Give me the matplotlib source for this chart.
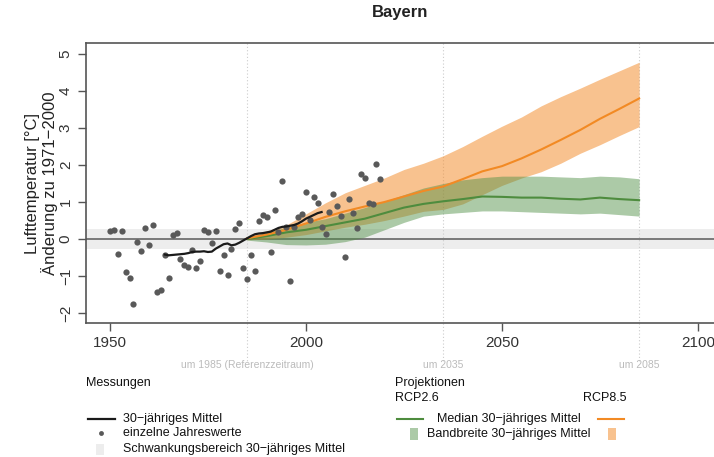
import numpy as np
import matplotlib
matplotlib.use('Agg')
from matplotlib import pyplot as plt
from matplotlib.lines import Line2D
from matplotlib.patches import Rectangle
import matplotlib.transforms as mtransforms

plt.rcParams['font.family'] = ['Liberation Sans', 'DejaVu Sans']

# measured annual values (deviation to 1971-2000)
years = np.arange(1950, 2020)
annual = [0.22, 0.25, -0.41, 0.22, -0.90, -1.04, -1.76, -0.07, -0.31, 0.30,
          -0.16, 0.39, -1.42, -1.38, -0.43, -1.04, 0.11, 0.17, -0.53, -0.69,
          -0.76, -0.30, -0.79, -0.59, 0.24, 0.20, -0.12, 0.22, -0.87, -0.43,
          -0.97, -0.28, 0.27, 0.43, -0.78, -1.08, -0.43, -0.86, 0.50, 0.64,
          0.60, -0.34, 0.78, 0.19, 1.57, 0.32, -1.13, 0.32, 0.60, 0.69,
          1.28, 0.51, 1.14, 0.98, 0.32, 0.14, 0.73, 1.22, 0.89, 0.62,
          -0.49, 1.09, 0.71, 0.30, 1.77, 1.66, 0.98, 0.95, 2.04, 1.62]

# 30-year running mean of the measurements
mean_years = np.arange(1964, 2005)
mean30 = [-0.42, -0.44, -0.43, -0.42, -0.41, -0.40, -0.38, -0.35, -0.34, -0.34,
          -0.33, -0.35, -0.34, -0.26, -0.20, -0.14, -0.12, -0.17, -0.15, -0.10,
          -0.04, 0.02, 0.08, 0.13, 0.15, 0.16, 0.18, 0.20, 0.25, 0.30,
          0.33, 0.34, 0.36, 0.38, 0.42, 0.48, 0.55, 0.60, 0.65, 0.70, 0.73]

# projections
proj_years = np.arange(1985, 2086, 5)
rcp85_med = [0.02, 0.12, 0.25, 0.42, 0.60, 0.75, 0.88, 1.00, 1.15, 1.30, 1.42,
             1.62, 1.83, 1.97, 2.18, 2.42, 2.68, 2.95, 3.25, 3.52, 3.80]
rcp85_hi = [0.05, 0.22, 0.38, 0.68, 0.98, 1.25, 1.45, 1.65, 1.88, 2.05, 2.25,
            2.50, 2.78, 3.05, 3.30, 3.60, 3.85, 4.08, 4.32, 4.55, 4.78]
rcp85_lo = [-0.02, 0.00, 0.05, 0.12, 0.22, 0.32, 0.40, 0.50, 0.62, 0.75, 0.80,
            0.95, 1.20, 1.45, 1.65, 1.82, 2.05, 2.32, 2.55, 2.80, 3.04]
rcp26_med = [0.00, 0.08, 0.18, 0.25, 0.35, 0.45, 0.55, 0.70, 0.85, 0.95, 1.02,
             1.08, 1.15, 1.14, 1.12, 1.12, 1.09, 1.07, 1.12, 1.08, 1.05]
rcp26_hi = [0.03, 0.18, 0.32, 0.45, 0.55, 0.70, 0.85, 1.02, 1.20, 1.38, 1.50,
            1.60, 1.66, 1.70, 1.70, 1.70, 1.68, 1.66, 1.70, 1.68, 1.63]
rcp26_lo = [-0.03, -0.08, -0.15, -0.16, -0.14, -0.07, 0.05, 0.25, 0.45, 0.62, 0.68,
            0.72, 0.76, 0.76, 0.74, 0.72, 0.70, 0.68, 0.70, 0.66, 0.62]

ref_lines = [1985, 2035, 2085]
ref_labels = ['um 1985 (Referenzzeitraum)', 'um 2035', 'um 2085']
band = 0.28

W, H = 714, 457
fig = plt.figure(figsize=(W / 100, H / 100), dpi=100)
ax = fig.add_axes([86 / W, 1 - 323 / H, (W - 86) / W, 280 / H])

c_orange_line = '#F28A24'
c_orange_fill = '#F39033'
c_green_line = '#4E8C3E'
c_green_fill = '#4F8F45'
c_grey = '#555555'

ax.axhspan(-band, band, color='#EDEDED', lw=0, zorder=0)
ax.axhline(0, color='#666666', lw=1.2, zorder=1)

trans = mtransforms.blended_transform_factory(ax.transData, ax.transAxes)
for x, lab in zip(ref_lines, ref_labels):
    ax.plot([x, x], [1, -0.135], transform=trans, clip_on=False,
            color='#CCCCCC', lw=0.8, ls=(0, (1, 2)), zorder=0.5)
    ax.text(x, -0.15, lab, transform=trans, ha='center', va='center',
            fontsize=7.5, color='#BBBBBB')

ax.fill_between(proj_years, rcp85_lo, rcp85_hi, color=c_orange_fill,
                alpha=0.55, lw=0, zorder=2)
ax.fill_between(proj_years, rcp26_lo, rcp26_hi, color=c_green_fill,
                alpha=0.47, lw=0, zorder=3)
ax.plot(proj_years, rcp26_med, color=c_green_line, lw=1.5, zorder=4)
ax.plot(proj_years, rcp85_med, color=c_orange_line, lw=1.5, zorder=4)

ax.plot(years, annual, 'o', color='#595959', ms=4.5, mew=0, zorder=5)
ax.plot(mean_years, mean30, color='#1A1A1A', lw=1.6, zorder=6)

ax.set_xlim(1943.9, 2104.1)
ax.set_ylim(-2.27, 5.3)
ax.set_xticks([1950, 2000, 2050, 2100])
ax.set_yticks(range(-2, 6))
ax.set_yticklabels([str(v).replace('-', '\u2212') for v in range(-2, 6)],
                   rotation=90, va='center')
ax.tick_params(axis='both', direction='out', length=6, width=1,
               color=c_grey, labelcolor='#333333', labelsize=11)
for s in ax.spines.values():
    s.set_color(c_grey)
    s.set_linewidth(1.2)
ax.spines['right'].set_visible(False)

ax.set_ylabel('Lufttemperatur [°C]\nÄnderung zu 1971\u22122000', fontsize=12,
              color='#222222', linespacing=1.1)
ax.yaxis.set_label_coords(-28 / 628, 0.5)
fig.text(400 / W, 1 - 13 / H, 'Bayern', ha='center', va='center',
         fontsize=12, fontweight='bold', color='#222222')


def fx(x):
    return x / W


def fy(y):
    return 1 - y / H


txt = dict(fontsize=9, color='#111111', va='center', ha='left')
fig.text(fx(86), fy(383), 'Messungen', **txt)
fig.add_artist(Line2D([fx(88), fx(115)], [fy(419), fy(419)], color='#1A1A1A', lw=1.6))
fig.text(fx(123), fy(419), '30\u2212jähriges Mittel', **txt)
fig.add_artist(Line2D([fx(101)], [fy(433)], marker='o', ms=3.5, mew=0, color='#595959'))
fig.text(fx(123), fy(433), 'einzelne Jahreswerte', **txt)
fig.add_artist(Rectangle((fx(96), fy(455)), 8 / W, 11 / H, color='#EDEDED', lw=0))
fig.text(fx(123), fy(449), 'Schwankungsbereich 30\u2212jähriges Mittel', **txt)

fig.text(fx(395), fy(383), 'Projektionen', **txt)
fig.text(fx(395), fy(398), 'RCP2.6', **txt)
fig.text(fx(583), fy(398), 'RCP8.5', **txt)
fig.add_artist(Line2D([fx(397), fx(423)], [fy(419), fy(419)], color=c_green_line, lw=1.5))
fig.text(fx(437), fy(419), 'Median 30\u2212jähriges Mittel', **txt)
fig.add_artist(Line2D([fx(598), fx(624)], [fy(419), fy(419)], color=c_orange_line, lw=1.5))
fig.add_artist(Rectangle((fx(410), fy(440)), 8 / W, 12 / H, color=c_green_fill, alpha=0.47, lw=0))
fig.text(fx(427), fy(434), 'Bandbreite 30\u2212jähriges Mittel', **txt)
fig.add_artist(Rectangle((fx(608), fy(440)), 8 / W, 12 / H, color=c_orange_fill, alpha=0.55, lw=0))

fig.savefig('out.png', dpi=100)
